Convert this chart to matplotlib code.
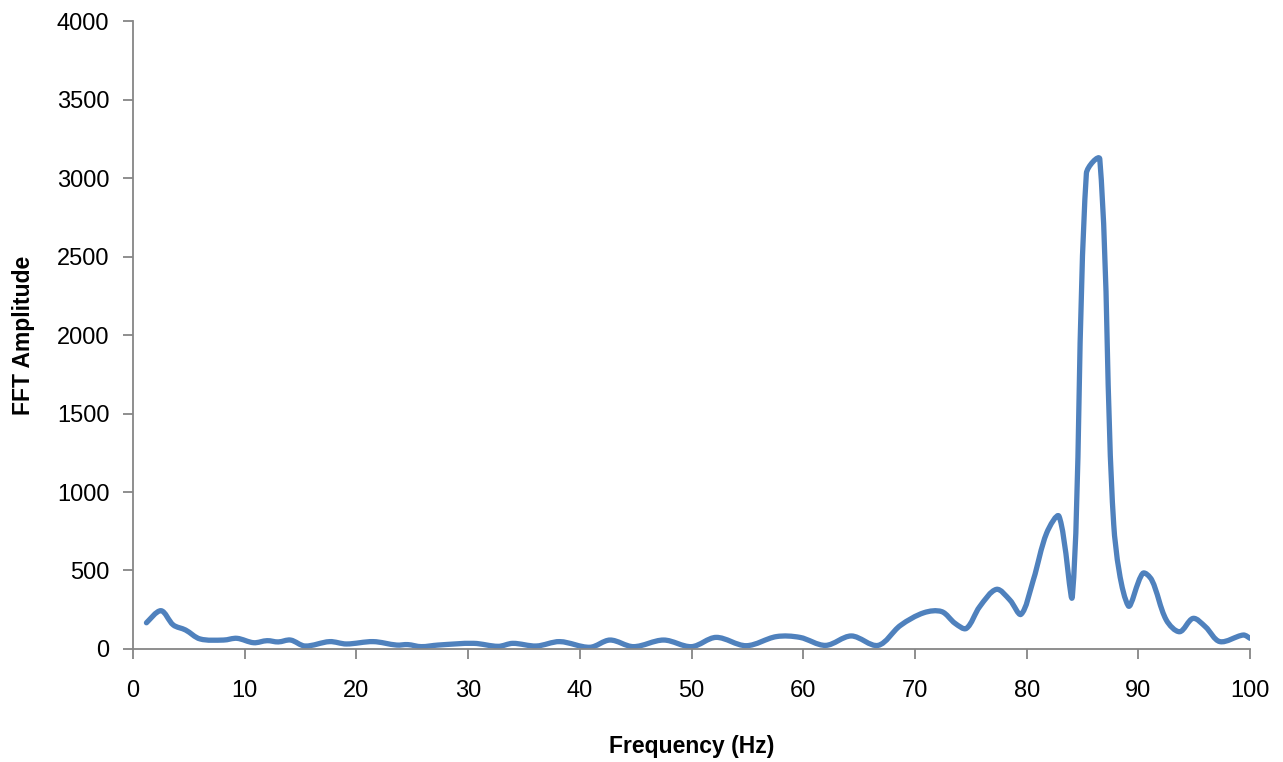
#FFT amplitude spectrum, smoothed line like the spreadsheet chart

import matplotlib
matplotlib.use('Agg')
import matplotlib.pyplot as plt
from matplotlib.path import Path
from matplotlib.patches import PathPatch
import numpy as np

freq = [1.2, 2.5, 3.6, 4.7, 6.0, 8.1, 9.3, 10.8, 12.0, 13.0, 14.1, 15.4, 17.6, 19.1,
        21.5, 23.6, 24.6, 25.8, 27.3, 30.5, 32.7, 34.0, 36.1, 38.2, 40.9, 42.7,
        44.8, 47.5, 50.0, 52.2, 54.9, 57.6, 59.7, 62.0, 64.3, 66.7, 68.7, 70.8,
        72.4, 73.6, 74.6, 75.8, 77.3, 78.5, 79.5, 80.6, 81.8, 82.9, 84.1, 85.35,
        86.55, 87.8, 89.1, 90.4, 91.2, 92.5, 93.7, 94.9, 96.0, 97.3, 99.4, 100.0]
amplitude = [167, 244, 153, 121, 64, 57, 68, 40, 53, 45, 57, 19, 47, 32,
             47, 25, 28, 15, 25, 36, 17, 36, 19, 47, 11, 57,
             15, 57, 15, 74, 21, 79, 74, 23, 83, 23, 150, 231,
             238, 163, 131, 270, 380, 312, 221, 440, 740, 845, 340, 3030,
             3120, 790, 275, 482, 440, 185, 110, 195, 142, 47, 89, 68]

blue = '#4F81BD'
grey = '#868686'

def smooth_path(ax, x, y):
    # bezier through every point, tangents weighted by segment length on screen
    tr = ax.transData
    pts = tr.transform(np.column_stack([x, y]).astype(float))
    n = len(pts)
    d = np.hypot(*np.diff(pts, axis=0).T)
    verts = [pts[0]]
    codes = [Path.MOVETO]
    for i in range(n - 1):
        p0 = pts[max(i - 1, 0)]
        p1 = pts[i]
        p2 = pts[i + 1]
        p3 = pts[min(i + 2, n - 1)]
        da = d[i - 1] if i > 0 else d[i]
        db = d[i + 1] if i < n - 2 else d[i]
        c1 = p1 + (p2 - p0) * d[i] / (da + d[i]) / 3.0
        c2 = p2 - (p3 - p1) * d[i] / (d[i] + db) / 3.0
        verts += [c1, c2, p2]
        codes += [Path.CURVE4] * 3
    verts = tr.inverted().transform(np.array(verts))
    return Path(verts, codes)

plt.rcParams['font.family'] = ['Liberation Sans', 'DejaVu Sans']

fig = plt.figure(figsize=(12.83, 7.62), dpi=100)
ax = fig.add_axes([0.1037, 0.1483, 0.8706, 0.8241])

ax.set_xlim(0, 100)
ax.set_ylim(0, 4000)
ax.set_xticks(np.arange(0, 101, 10))
ax.set_yticks(np.arange(0, 4001, 500))

ax.add_patch(PathPatch(smooth_path(ax, freq, amplitude), facecolor='none',
                       edgecolor=blue, lw=3.8, capstyle='round', joinstyle='round'))

for s in ['top', 'right']:
    ax.spines[s].set_visible(False)
for s in ['left', 'bottom']:
    ax.spines[s].set_color(grey)
    ax.spines[s].set_linewidth(1.3)

ax.tick_params(axis='both', direction='out', length=7, width=1.3, color=grey,
               labelsize=17, labelcolor='black')
ax.tick_params(axis='x', pad=15)
ax.tick_params(axis='y', pad=10)

ax.set_xlabel('Frequency (Hz)', fontsize=16.5, fontweight='bold', labelpad=24)
ax.set_ylabel('FFT Amplitude', fontsize=16.5, fontweight='bold', labelpad=16)

plt.savefig('out.png', dpi=100)
